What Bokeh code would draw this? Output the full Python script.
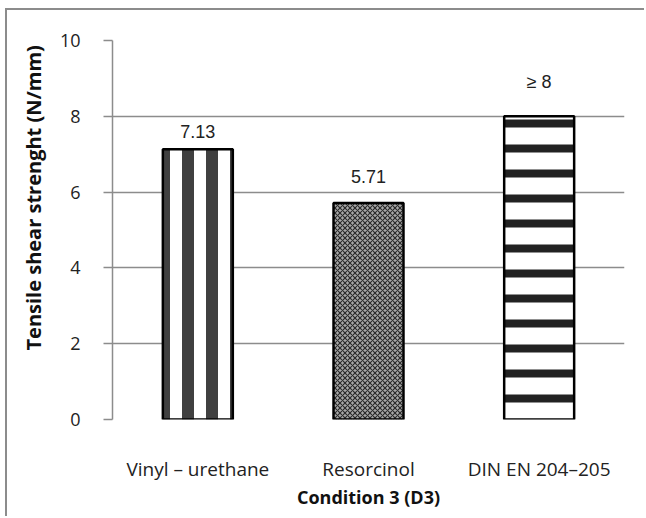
from bokeh.plotting import figure
from bokeh.models import FactorRange, Range1d, FixedTicker, Label, Title
from bokeh.embed import file_html
from bokeh.resources import INLINE

categories = ["Vinyl \u2013 urethane", "Resorcinol", "DIN EN 204\u2013205"]
values = [7.13, 5.71, 8.0]
value_labels = ["7.13", "5.71", "\u2265 8"]
y_ticks = [0, 2, 4, 6, 8, 10]
y_title = "Tensile shear strenght (N/mm)"
x_title = "Condition 3 (D3)"

# styles
label_offsets = [-18, -27, -34]
hatch_patterns = ["vertical_line", "diagonal_cross", "horizontal_line"]
fill_colors = ["white", "#a8a8a8", "white"]
hatch_colors = ["#404040", "#2a2a2a", "#222222"]
hatch_scales = [24, 5, 25]
hatch_weights = [12, 1.2, 8]

W, H = 639, 508
p = figure(x_range=FactorRange(*categories, range_padding=0), y_range=Range1d(0, 10),
           width=W, height=H, output_backend="svg", toolbar_location=None,
           min_border_left=105, min_border_top=30, min_border_right=22, min_border_bottom=99)
p.styles = {"border-top": "2px solid #8c8c8c", "border-left": "2px solid #8c8c8c",
            "margin-top": "8px", "margin-left": "5px"}
p.outline_line_color = None
p.background_fill_color = "white"

for i, (c, v) in enumerate(zip(categories, values)):
    p.vbar(x=[c], top=[v], bottom=0, width=0.41, fill_color=fill_colors[i],
           line_color="black", line_width=2.5,
           hatch_pattern=hatch_patterns[i], hatch_color=hatch_colors[i],
           hatch_scale=hatch_scales[i], hatch_weight=hatch_weights[i])
    p.add_layout(Label(x=i + 0.5, y=v, text=value_labels[i], y_offset=-label_offsets[i],
                       text_align="center", text_baseline="middle",
                       text_font="Liberation Sans", text_font_size="18px", text_color="#222222"))

# y axis title, starting a little above the frame bottom as in the original
p.add_layout(Title(text=y_title, align="left", offset=69, standoff=20,
                   text_font="Open Sans", text_font_style="bold", text_font_size="20px",
                   text_color="#111111"), "left")

p.xgrid.grid_line_color = None
p.ygrid.grid_line_color = "#8c8c8c"
p.ygrid.grid_line_width = 1.5
p.ygrid.ticker = FixedTicker(ticks=y_ticks)

ya = p.yaxis[0]
ya.ticker = FixedTicker(ticks=y_ticks)
ya.axis_line_color = "#8c8c8c"
ya.axis_line_width = 1.5
ya.major_tick_line_color = "#8c8c8c"
ya.major_tick_line_width = 1.5
ya.major_tick_out = 9
ya.major_tick_in = 0
ya.minor_tick_line_color = None
ya.major_label_standoff = 23
ya.major_label_text_font = "Open Sans"
ya.major_label_text_font_size = "18px"
ya.major_label_text_color = "#222222"

xa = p.xaxis[0]
xa.axis_line_color = None
xa.major_tick_line_color = None
xa.minor_tick_line_color = None
xa.major_label_standoff = 30
xa.major_label_text_font = "Open Sans"
xa.major_label_text_font_size = "19px"
xa.major_label_text_color = "#222222"
xa.axis_label = x_title
xa.axis_label_text_font = "Open Sans"
xa.axis_label_text_font_style = "bold"
xa.axis_label_text_font_size = "18px"
xa.axis_label_text_color = "#111111"
xa.axis_label_standoff = 0

open("out.html", "w").write(file_html(p, INLINE))
